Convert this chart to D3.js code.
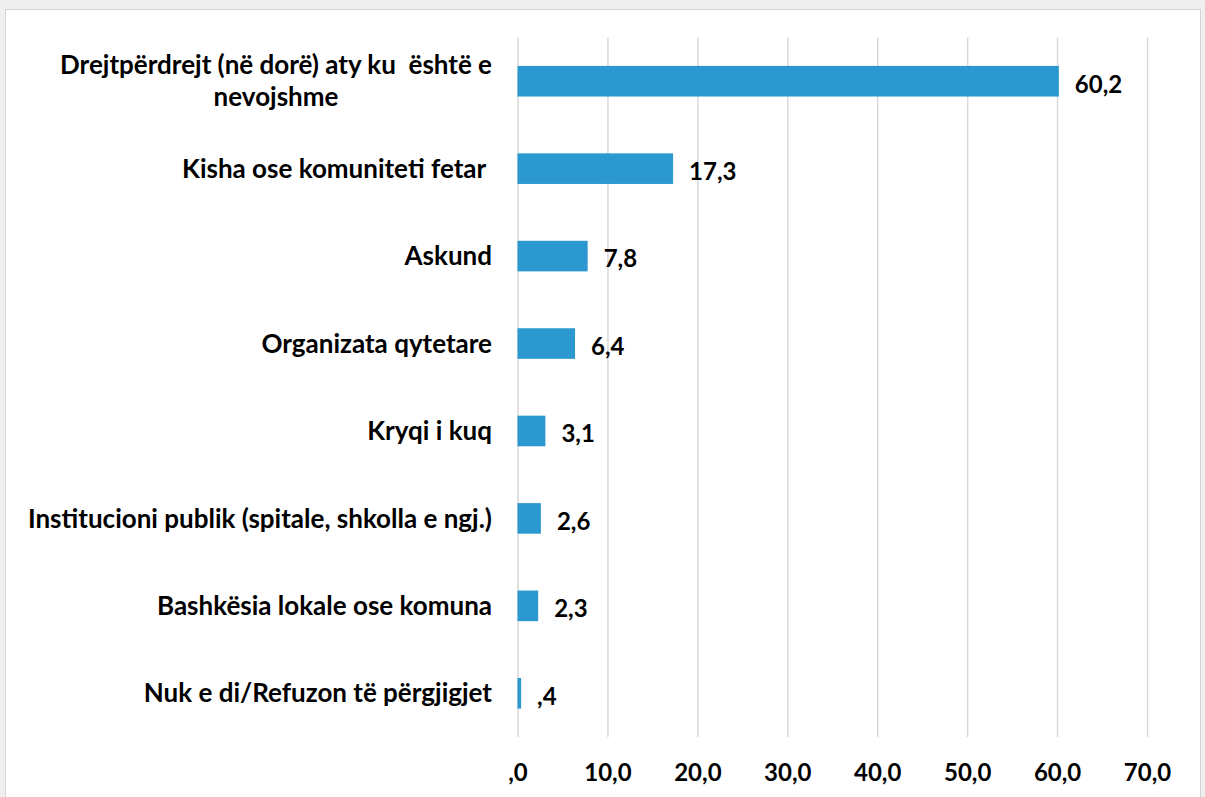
<!DOCTYPE html>
<html>
<head>
<meta charset="utf-8">
<script src="https://cdn.jsdelivr.net/npm/d3@7"></script>
<style>
  html, body { margin: 0; padding: 0; background: #efefef; }
  svg { display: block; }
</style>
</head>
<body>
<div id="chart"></div>
<script>
// përgjigjet, vlerat në përqindje
const categories = [
  'Drejtpërdrejt (në dorë) aty ku  është e|nevojshme',
  'Kisha ose komuniteti fetar ',
  'Askund',
  'Organizata qytetare',
  'Kryqi i kuq',
  'Institucioni publik (spitale, shkolla e ngj.)',
  'Bashkësia lokale ose komuna',
  'Nuk e di/Refuzon të përgjigjet'
];
const values = [60.2, 17.3, 7.8, 6.4, 3.1, 2.6, 2.3, 0.4];
const tickValues = [0, 10, 20, 30, 40, 50, 60, 70];

const width = 1205;
const height = 797;
const margin = {top: 37.5, left: 517.5, bottom: 60, right: 58};
const font = 'Lato, "Open Sans", sans-serif';

const fmt = v => d3.format('.1f')(v).replace('.', ',').replace(/^0,/, ',');

const x = d3.scaleLinear()
  .domain([0, 70])
  .range([margin.left, width - margin.right]);

const y = d3.scaleBand()
  .domain(categories)
  .range([margin.top, height - margin.bottom])
  .paddingInner(0.65)
  .paddingOuter(0.325);

const svg = d3.select('#chart').append('svg')
  .attr('width', width)
  .attr('height', height);

// paneli i bardhë
svg.append('rect')
  .attr('x', 5.5).attr('y', 9.5)
  .attr('width', 1195).attr('height', 800)
  .attr('fill', '#fff')
  .attr('stroke', '#d4d4d4');

const xAxis = g => g
  .attr('transform', `translate(0, ${margin.top})`)
  .call(d3.axisBottom(x).tickValues(tickValues).tickFormat(fmt)
    .tickSize(height - margin.bottom - margin.top).tickPadding(27))
  .call(g => g.select('.domain').remove())
  .call(g => g.selectAll('line').attr('stroke', '#d9d9d9').attr('stroke-width', 1.5))
  .call(g => g.selectAll('text')
    .attr('fill', '#000')
    .style('font', `bold 24px ${font}`));

svg.append('g').call(xAxis);

svg.append('g')
  .selectAll('rect').data(values).enter().append('rect')
  .attr('x', x(0))
  .attr('y', (d, i) => y(categories[i]))
  .attr('width', d => x(d) - x(0))
  .attr('height', y.bandwidth())
  .attr('fill', '#2b98d0');

// vlerat
svg.append('g')
  .selectAll('text').data(values).enter().append('text')
  .attr('x', d => x(d) + 16)
  .attr('y', (d, i) => y(categories[i]) + y.bandwidth() / 2 + 3)
  .attr('dy', '0.35em')
  .style('font', `bold 24px ${font}`)
  .attr('fill', '#000')
  .text(d => fmt(d));

// emërtimet e kategorive
const labelRight = 492;
const labels = svg.append('g')
  .style('font', `bold 26px ${font}`)
  .attr('fill', '#000');

categories.forEach(c => {
  const lines = c.split('|');
  const cy = y(c) + y.bandwidth() / 2;
  const lh = 32;
  const t = labels.append('text')
    .attr('xml:space', 'preserve')
    .style('white-space', 'pre');
  lines.forEach((l, k) => {
    t.append('tspan')
      .attr('y', cy + (k - (lines.length - 1) / 2) * lh)
      .attr('dy', '0.35em')
      .text(l);
  });
  // rreshti i parë në të djathtë, të tjerët në qendër të tij
  const first = t.select('tspan').node().getComputedTextLength();
  const mid = labelRight - first / 2;
  t.attr('text-anchor', 'middle');
  t.selectAll('tspan').attr('x', mid);
});
</script>
</body>
</html>
